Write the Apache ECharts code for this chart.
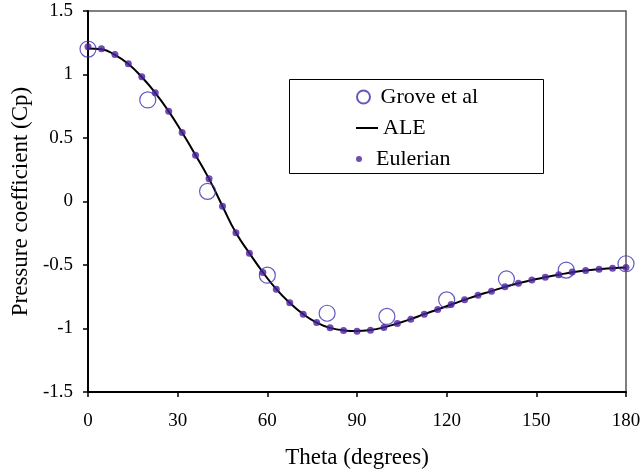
<!DOCTYPE html>
<html>
<head>
<meta charset="utf-8">
<script src="https://cdn.jsdelivr.net/npm/echarts@6/dist/echarts.min.js"></script>
<style>html,body{margin:0;padding:0;background:#fff}#c{width:641px;height:474px}</style>
</head>
<body>
<div id="c"></div>
<script>
var FONT = '"Liberation Serif", "DejaVu Serif", serif';
var xTicks = [0, 30, 60, 90, 120, 150, 180];
var yTicks = [-1.5, -1, -0.5, 0, 0.5, 1, 1.5];

var groveTheta = [0, 20, 40, 60, 80, 100, 120, 140, 160, 180];
var groveCp = [1.20, 0.80, 0.08, -0.58, -0.88, -0.905, -0.775, -0.61, -0.54, -0.49];

var eulerTheta = [0, 4.5, 9, 13.5, 18, 22.5, 27, 31.5, 36, 40.5, 45, 49.5, 54, 58.5, 63, 67.5, 72, 76.5,
  81, 85.5, 90, 94.5, 99, 103.5, 108, 112.5, 117, 121.5, 126, 130.5, 135, 139.5, 144, 148.5, 153, 157.5,
  162, 166.5, 171, 175.5, 180];
var eulerCp = [1.218, 1.202, 1.157, 1.084, 0.982, 0.856, 0.711, 0.543, 0.365, 0.179, -0.037, -0.247,
  -0.407, -0.559, -0.690, -0.798, -0.887, -0.953, -0.995, -1.016, -1.021, -1.013, -0.992, -0.961,
  -0.927, -0.887, -0.850, -0.811, -0.774, -0.738, -0.706, -0.672, -0.643, -0.619, -0.596, -0.577,
  -0.556, -0.543, -0.533, -0.525, -0.520];

var aleTheta = [0, 4.5, 9, 13.5, 18, 22.5, 27, 31.5, 36, 40.5, 45, 49.5, 54, 58.5, 63, 67.5, 72, 76.5,
  81, 85.5, 90, 94.5, 99, 103.5, 108, 112.5, 117, 121.5, 126, 130.5, 135, 139.5, 144, 148.5, 153, 157.5,
  162, 166.5, 171, 175.5, 180];
var aleCp = [1.205, 1.198, 1.155, 1.083, 0.980, 0.855, 0.710, 0.543, 0.365, 0.178, -0.037, -0.247,
  -0.407, -0.557, -0.690, -0.798, -0.887, -0.953, -0.995, -1.015, -1.020, -1.012, -0.991, -0.960,
  -0.926, -0.887, -0.850, -0.811, -0.774, -0.738, -0.706, -0.672, -0.643, -0.619, -0.596, -0.577,
  -0.557, -0.543, -0.533, -0.525, -0.520];

function pairs(xs, ys) { return xs.map(function (x, i) { return [x, ys[i]]; }); }

var chart = echarts.init(document.getElementById('c'), null, { renderer: 'canvas' });
var tickStyle = { fontFamily: FONT, fontSize: 19, color: '#000' };
var legendText = { fontFamily: FONT, fontSize: 22, color: '#000' };
chart.setOption({
  animation: false,
  backgroundColor: '#fff',
  grid: { left: 88, top: 11, right: 15, bottom: 82, show: true, borderColor: '#555', borderWidth: 1.5, outerBoundsMode: 'none' },
  xAxis: {
    type: 'value', min: xTicks[0], max: xTicks[xTicks.length - 1], interval: 30,
    name: 'Theta (degrees)', nameLocation: 'middle', nameGap: 54,
    nameTextStyle: { fontFamily: FONT, fontSize: 23, color: '#000' },
    axisLine: { show: true, onZero: false, lineStyle: { color: '#000', width: 2 } },
    axisTick: { show: true, inside: false, length: 5, lineStyle: { color: '#000', width: 1.5 } },
    axisLabel: Object.assign({ margin: 20 }, tickStyle),
    splitLine: { show: false }
  },
  yAxis: {
    type: 'value', min: yTicks[0], max: yTicks[yTicks.length - 1], interval: 0.5,
    name: 'Pressure coefficient (Cp)', nameLocation: 'middle', nameGap: 54,
    nameTextStyle: { fontFamily: FONT, fontSize: 23, color: '#000' },
    axisLine: { show: true, onZero: false, lineStyle: { color: '#000', width: 2 } },
    axisTick: { show: true, inside: false, length: 5, lineStyle: { color: '#000', width: 1.5 } },
    axisLabel: Object.assign({ margin: 15 }, tickStyle),
    splitLine: { show: false }
  },
  graphic: [{
    type: 'rect', z: 1, silent: true,
    shape: { x: 289.5, y: 79.5, width: 254, height: 94 },
    style: { fill: '#fff', stroke: '#000', lineWidth: 1 }
  }],
  legend: [
    { data: ['Grove et al'], left: 356, top: 86, padding: 0, itemWidth: 24, itemHeight: 13, z: 10,
      textStyle: legendText },
    { data: [{ name: 'ALE', icon: 'path://M0,0L22,0L22,2L0,2Z' }], left: 356, top: 117, padding: 0,
      itemWidth: 22, itemHeight: 2, z: 10, textStyle: legendText },
    { data: ['Eulerian'], left: 356, top: 148, padding: 0, itemWidth: 24, itemHeight: 6, z: 10,
      textStyle: legendText }
  ],
  series: [
    { name: 'ALE', type: 'line', data: pairs(aleTheta, aleCp), smooth: true, symbol: 'none', z: 2,
      lineStyle: { color: '#000', width: 2 }, itemStyle: { color: '#000' } },
    { name: 'Eulerian', type: 'scatter', data: pairs(eulerTheta, eulerCp), symbol: 'circle', symbolSize: 7, z: 3,
      itemStyle: { color: '#4a1f9c' } },
    { name: 'Grove et al', type: 'scatter', data: pairs(groveTheta, groveCp), symbol: 'circle', symbolSize: 16, z: 4,
      itemStyle: { color: 'rgba(255,255,255,0)', borderColor: '#3b2fb0', borderWidth: 1.2 } }
  ]
});
</script>
</body>
</html>
